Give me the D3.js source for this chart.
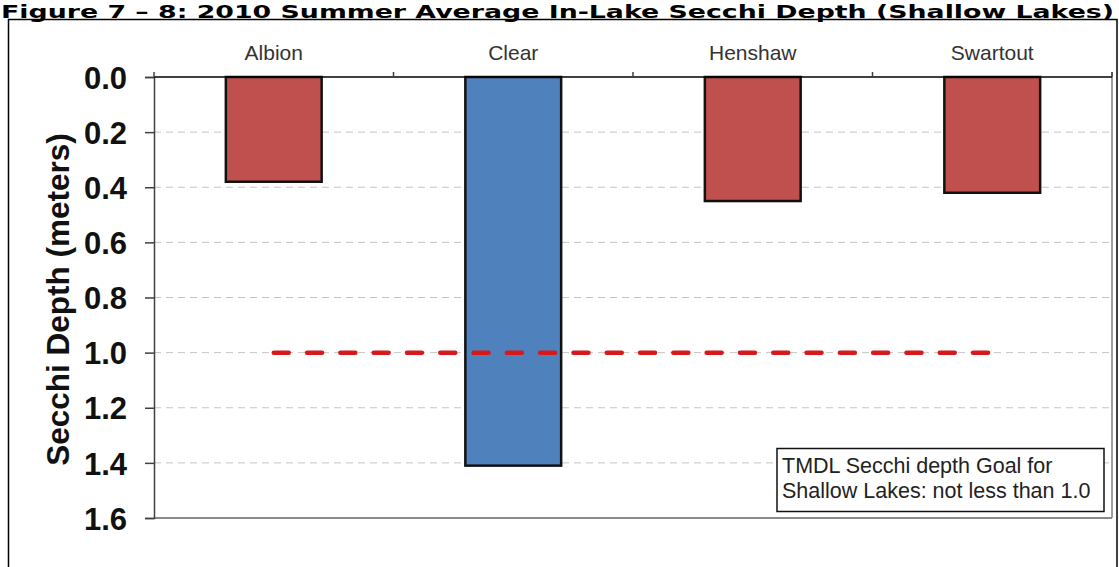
<!DOCTYPE html>
<html>
<head>
<meta charset="utf-8">
<script src="https://cdn.jsdelivr.net/npm/d3@7/dist/d3.min.js"></script>
<style>
  html, body { margin: 0; padding: 0; background: #fff; }
  svg { display: block; }
</style>
</head>
<body>
<svg id="chart" width="1119" height="567"></svg>
<script>
const titleText = "Figure 7 \u2013 8: 2010 Summer Average In-Lake Secchi Depth (Shallow Lakes)";
const categories = ["Albion", "Clear", "Henshaw", "Swartout"];
const secchiDepth = [0.38, 1.41, 0.45, 0.42];
const barColors = ["#c0504d", "#4f81bd", "#c0504d", "#c0504d"];
const yTicks = [0.0, 0.2, 0.4, 0.6, 0.8, 1.0, 1.2, 1.4, 1.6];
const goalValue = 1.0;
const yAxisTitle = "Secchi Depth (meters)";
const noteLines = ["TMDL Secchi depth Goal for", "Shallow Lakes: not less than 1.0"];

const svg = d3.select("#chart");
const plot = { left: 154, right: 1112, top: 77, bottom: 518 };

// title
svg.append("text")
  .attr("x", 1).attr("y", 17.5)
  .attr("font-family", "DejaVu Sans")
  .attr("font-weight", "bold")
  .attr("font-size", 18)
  .attr("fill", "#000")
  .attr("textLength", 1113)
  .attr("lengthAdjust", "spacingAndGlyphs")
  .text(titleText);

// outer frame
svg.append("rect")
  .attr("x", 8.5).attr("y", 19.5)
  .attr("width", 1117 - 8.5).attr("height", 600)
  .attr("fill", "none").attr("stroke", "#000").attr("stroke-width", 1.5);

const x = d3.scaleBand()
  .domain(categories)
  .range([plot.left, plot.right])
  .paddingInner(0.6)
  .paddingOuter(0.3);

const y = d3.scaleLinear().domain([0, 1.6]).range([plot.top, plot.bottom]);

// gridlines
svg.append("g")
  .selectAll("line")
  .data(yTicks.filter(v => v > 0 && v < 1.6))
  .join("line")
  .attr("x1", plot.left).attr("x2", plot.right)
  .attr("y1", d => y(d)).attr("y2", d => y(d))
  .attr("stroke", "#c4c4c4").attr("stroke-width", 1)
  .attr("stroke-dasharray", "7,5");

// right and bottom plot border (gray)
svg.append("line")
  .attr("x1", plot.right).attr("x2", plot.right)
  .attr("y1", plot.top - 5).attr("y2", plot.bottom)
  .attr("stroke", "#7f7f7f").attr("stroke-width", 1.5);
svg.append("line")
  .attr("x1", plot.left).attr("x2", plot.right)
  .attr("y1", plot.bottom).attr("y2", plot.bottom)
  .attr("stroke", "#8a8a8a").attr("stroke-width", 2);

// y axis
const yAxis = d3.axisLeft(y)
  .tickValues(yTicks)
  .tickFormat(d3.format(".1f"))
  .tickSize(9)
  .tickPadding(18);
const gy = svg.append("g")
  .attr("transform", `translate(${plot.left},0)`)
  .call(yAxis);
gy.select(".domain").attr("stroke", "#404040").attr("stroke-width", 1.5);
gy.selectAll(".tick line").attr("stroke", "#404040").attr("stroke-width", 1.5);
gy.selectAll(".tick text")
  .attr("font-family", "Liberation Sans, Arial, sans-serif")
  .attr("font-weight", "bold")
  .attr("font-size", 31)
  .attr("fill", "#111")
  .attr("dy", "0.36em");

// bars
svg.append("g")
  .selectAll("rect")
  .data(categories)
  .join("rect")
  .attr("x", d => x(d))
  .attr("y", y(0))
  .attr("width", x.bandwidth())
  .attr("height", (d, i) => y(secchiDepth[i]) - y(0))
  .attr("fill", (d, i) => barColors[i])
  .attr("stroke", "#111")
  .attr("stroke-width", 2.5);

// top category axis
const step = x.step();
const boundaries = d3.range(categories.length + 1).map(i => plot.left + i * step);
svg.append("line")
  .attr("x1", plot.left).attr("x2", plot.right)
  .attr("y1", plot.top).attr("y2", plot.top)
  .attr("stroke", "#000").attr("stroke-width", 1.5);
svg.append("g")
  .selectAll("line")
  .data(boundaries)
  .join("line")
  .attr("x1", d => d).attr("x2", d => d)
  .attr("y1", plot.top - 5).attr("y2", plot.top)
  .attr("stroke", "#404040").attr("stroke-width", 1.5);
svg.append("g")
  .selectAll("text")
  .data(categories)
  .join("text")
  .attr("x", d => x(d) + x.bandwidth() / 2)
  .attr("y", 60)
  .attr("text-anchor", "middle")
  .attr("font-family", "Liberation Sans, Arial, sans-serif")
  .attr("font-size", 21)
  .attr("fill", "#333")
  .text(d => d);

// goal line
svg.append("line")
  .attr("x1", x(categories[0]) + x.bandwidth() / 2)
  .attr("x2", x(categories[categories.length - 1]) + x.bandwidth() / 2)
  .attr("y1", y(goalValue)).attr("y2", y(goalValue))
  .attr("stroke", "#d7191c").attr("stroke-width", 4.5)
  .attr("stroke-linecap", "round")
  .attr("stroke-dasharray", "15,18.3");

// y axis title
svg.append("text")
  .attr("transform", `translate(69,${(plot.top + plot.bottom) / 2 + 2}) rotate(-90)`)
  .attr("text-anchor", "middle")
  .attr("font-family", "Liberation Sans, Arial, sans-serif")
  .attr("font-weight", "bold")
  .attr("font-size", 31.5)
  .attr("fill", "#111")
  .text(yAxisTitle);

// note box
const note = svg.append("g");
note.append("rect")
  .attr("x", 777).attr("y", 448.5)
  .attr("width", 327).attr("height", 63)
  .attr("fill", "#fff").attr("stroke", "#111").attr("stroke-width", 1.5);
note.selectAll("text")
  .data(noteLines)
  .join("text")
  .attr("x", 782)
  .attr("y", (d, i) => 473 + i * 25)
  .attr("font-family", "Liberation Sans, Arial, sans-serif")
  .attr("font-size", 21.5)
  .attr("fill", "#222")
  .text(d => d);
</script>
</body>
</html>
